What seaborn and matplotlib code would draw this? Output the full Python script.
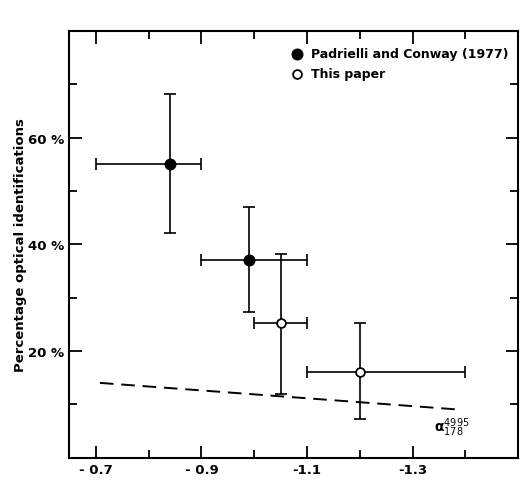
import numpy as np
import pandas as pd
import seaborn as sns
import matplotlib.pyplot as plt
from matplotlib.ticker import MultipleLocator

# Padrielli and Conway (1977)
pc_alpha = [-0.84, -0.99]
pc_pct = [55.1, 37.1]
pc_xlo = [-0.70, -0.90]
pc_xhi = [-0.90, -1.10]
pc_ylo = [42.1, 27.3]
pc_yhi = [68.2, 47.1]

# This paper
tp_alpha = [-1.05, -1.20]
tp_pct = [25.2, 16.1]
tp_xlo = [-1.00, -1.10]
tp_xhi = [-1.10, -1.40]
tp_ylo = [11.9, 7.2]
tp_yhi = [38.2, 25.2]

# dashed reference line
line_alpha = [-0.70, -1.38]
line_pct = [14.1, 9.1]

x_ticks = [-0.7, -0.9, -1.1, -1.3]
x_labels = ["- 0.7", "- 0.9", "-1.1", "-1.3"]
y_ticks = [20, 40, 60]
y_labels = ["20 %", "40 %", "60 %"]

sns.set_style("ticks")
plt.rcParams['font.family'] = ['DejaVu Sans']
plt.rcParams['text.color'] = 'black'
plt.rcParams['axes.labelcolor'] = 'black'

pc = pd.DataFrame({'alpha': pc_alpha, 'pct': pc_pct})
tp = pd.DataFrame({'alpha': tp_alpha, 'pct': tp_pct})
ref = pd.DataFrame({'alpha': line_alpha, 'pct': line_pct})

fig = plt.figure(figsize=(5.26, 4.85), dpi=100)
ax = fig.add_axes([0.132, 0.054, 0.853, 0.880])

def draw_errors(a, p, xlo, xhi, ylo, yhi):
    a = np.array(a); p = np.array(p)
    left = np.minimum(xlo, xhi)
    right = np.maximum(xlo, xhi)
    xerr = [a - left, right - a]
    yerr = [p - np.array(ylo), np.array(yhi) - p]
    ax.errorbar(a, p, xerr=xerr, yerr=yerr, fmt='none', ecolor='black',
                elinewidth=1.2, capsize=4, capthick=1.2, zorder=2)

draw_errors(pc_alpha, pc_pct, pc_xlo, pc_xhi, pc_ylo, pc_yhi)
draw_errors(tp_alpha, tp_pct, tp_xlo, tp_xhi, tp_ylo, tp_yhi)

sns.lineplot(data=ref, x='alpha', y='pct', ax=ax, color='black',
             linewidth=1.4, dashes=False, linestyle=(0, (7, 4)), zorder=1)

sns.scatterplot(data=pc, x='alpha', y='pct', ax=ax, color='black',
                edgecolor='black', s=55, linewidth=1.2, zorder=3,
                label='Padrielli and Conway (1977)')
sns.scatterplot(data=tp, x='alpha', y='pct', ax=ax, color='white',
                edgecolor='black', s=40, linewidth=1.3, zorder=3,
                label='This paper')

ax.text(-1.34, 5.8, r'$\mathregular{\alpha}^{4995}_{178}$', fontsize=10,
        fontweight='bold', ha='left', va='center')

ax.set_xlim(-0.65, -1.5)
ax.set_ylim(0, 80)
ax.set_xticks(x_ticks)
ax.set_xticklabels(x_labels)
ax.set_yticks(y_ticks)
ax.set_yticklabels(y_labels)
ax.xaxis.set_minor_locator(MultipleLocator(0.1))
ax.yaxis.set_minor_locator(MultipleLocator(10))
ax.tick_params(which='both', direction='in', top=True, right=True,
               width=1.3, labelsize=9.5, colors='black')
ax.tick_params(which='major', length=9)
ax.tick_params(which='minor', length=6)
for lab in ax.get_xticklabels() + ax.get_yticklabels():
    lab.set_fontweight('bold')
for sp in ax.spines.values():
    sp.set_linewidth(1.5)
    sp.set_color('black')

ax.set_xlabel('')
ax.set_ylabel('Percentage optical identifications', fontsize=9.5,
              fontweight='bold', labelpad=1)

leg = ax.legend(loc='upper right', frameon=False, fontsize=9,
                handletextpad=0.05, borderaxespad=0.5, labelspacing=0.55,
                borderpad=0.3, bbox_to_anchor=(1.0, 0.985))
for t in leg.get_texts():
    t.set_fontweight('bold')
    t.set_color('black')

fig.savefig('out.png', dpi=100)
